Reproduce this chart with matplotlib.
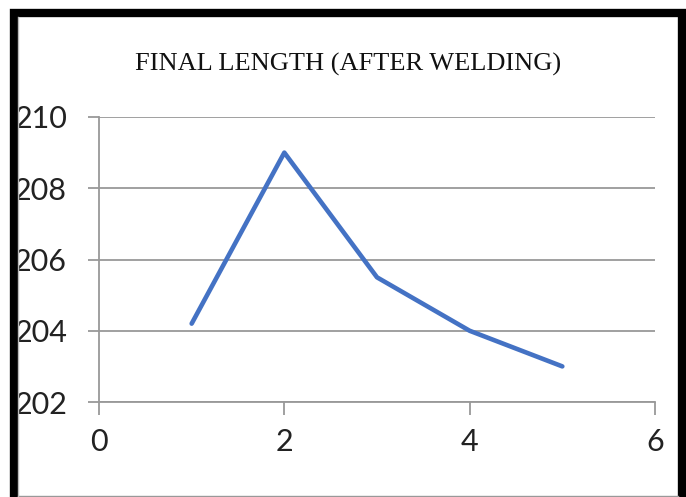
import matplotlib
matplotlib.use("Agg")
import matplotlib.pyplot as plt
from matplotlib.patches import Rectangle
from matplotlib.lines import Line2D

x_vals = [1, 2, 3, 4, 5]
lengths = [204.2, 209.0, 205.5, 204.0, 203.0]
x_ticks = [0, 2, 4, 6]
y_ticks = [202, 204, 206, 208, 210]
title = "FINAL LENGTH (AFTER WELDING)"

plt.rcParams['font.family'] = ['Lato', 'DejaVu Sans']

fig = plt.figure(figsize=(6.86, 4.97), dpi=100)
ax = fig.add_axes([0.1443, 0.1911, 0.8105, 0.5735])

ax.plot(x_vals, lengths, color='#4472C4', linewidth=3.3, solid_capstyle='round',
        solid_joinstyle='round', zorder=3)

ax.set_xlim(0, 6)
ax.set_ylim(202, 210)
ax.set_xticks(x_ticks)
ax.set_yticks(y_ticks)
ax.grid(axis='y', color='#999999', linewidth=1.3)
ax.set_axisbelow(True)

for s in ['top', 'right']:
    ax.spines[s].set_visible(False)
for s in ['left', 'bottom']:
    ax.spines[s].set_color('#999999')
    ax.spines[s].set_linewidth(1.3)

ax.tick_params(axis='y', length=8, width=1.3, color='#999999', pad=15,
               labelsize=22, labelcolor='#222222')
ax.tick_params(axis='x', length=9, width=1.3, color='#999999', pad=10,
               labelsize=22, labelcolor='#222222')

fig.text(0.507, 0.87, title, ha='center', va='center', fontsize=19,
         family='Liberation Serif', color='#111111')

# black frame round the chart, open at the bottom
fig.patches.append(Rectangle((14 / 686, -0.01), 668 / 686, 1 - 13 / 497 + 0.01,
                             transform=fig.transFigure, fill=False,
                             edgecolor='black', linewidth=6))
# thin grey edges of the inner box
fig.lines.append(Line2D([18 / 686, 678 / 686], [1.5 / 497, 1.5 / 497],
                        transform=fig.transFigure, color='#999999', linewidth=1))
fig.lines.append(Line2D([18 / 686, 18 / 686], [0, 480 / 497],
                        transform=fig.transFigure, color='#bbbbbb', linewidth=1))

fig.savefig('out.png', dpi=100)
